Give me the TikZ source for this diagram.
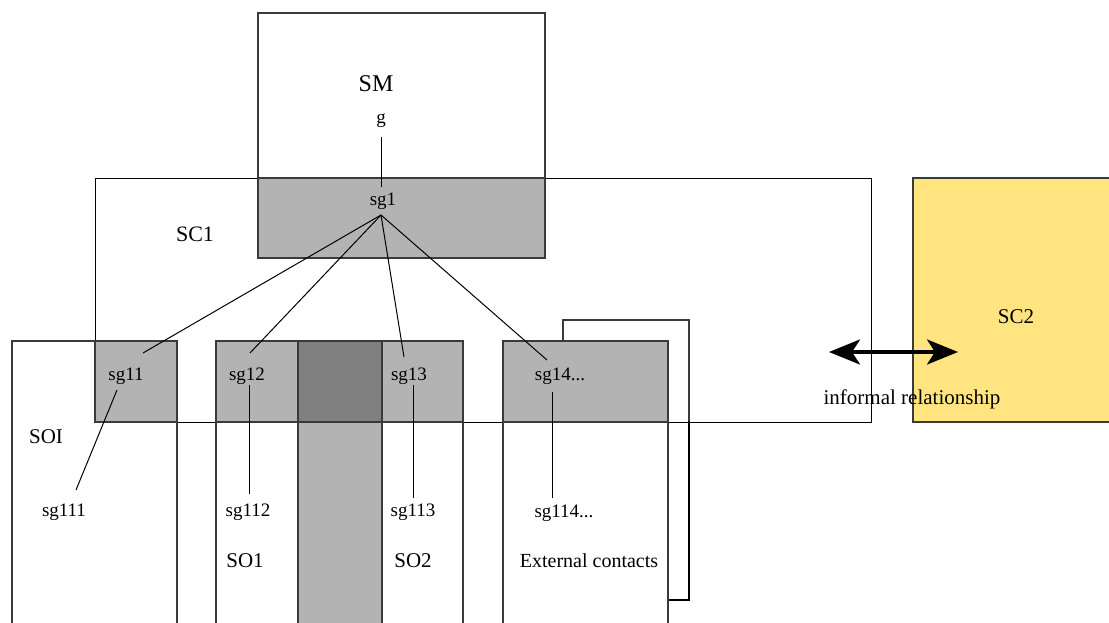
\documentclass[tikz,border=0pt]{standalone}
\usepackage{fontspec}
\setmainfont{Liberation Serif}
\usetikzlibrary{arrows.meta}
\definecolor{boxgrey}{HTML}{B3B3B3}
\definecolor{darkgrey}{HTML}{808080}
\definecolor{scyellow}{HTML}{FFE480}
\definecolor{edgegrey}{HTML}{3A3A3A}
\tikzset{
  frame/.style={draw=edgegrey, line width=1.1pt},
  thinframe/.style={draw=black, line width=0.9pt},
  greyfill/.style={fill=boxgrey, draw=edgegrey, line width=1.3pt},
  conn/.style={draw=black, line width=1pt},
  lbl/.style={inner sep=0pt, anchor=base, text=black},
  small/.style={lbl, font=\fontsize{19}{21}\selectfont},
  mid/.style={lbl, font=\fontsize{21}{23}\selectfont},
  big/.style={lbl, font=\fontsize{24}{26}\selectfont},
}
\begin{document}
\begin{tikzpicture}[x=1pt,y=-1pt]
\useasboundingbox (0,0) rectangle (1109,623);
\clip (0,0) rectangle (1109,623);
\fill[white] (0,0) rectangle (1109,623);
% SC1
\path[thinframe] (95,178) rectangle (871,422);
% SM
\path[frame] (258,13) rectangle (545,258);
\path[greyfill] (258,178) rectangle (545,258);
% SC2
\path[fill=scyellow, draw=edgegrey, line width=1.1pt] (913,178) rectangle (1120,422);
% back box behind external contacts
\draw[edgegrey, line width=1.1pt] (563,341) -- (563,320) -- (689,320) -- (689,422);
\draw[black, line width=2pt] (689,421) -- (689,600) -- (668,600);
% SOI
\path[frame] (12,341) rectangle (177,640);
\path[greyfill] (95,341) rectangle (177,422);
% SO1
\path[frame] (216,341) rectangle (298,640);
\path[greyfill] (216,341) rectangle (298,422);
% middle column
\path[greyfill] (298,341) rectangle (382,640);
\path[fill=darkgrey, draw=edgegrey, line width=1.3pt] (298,341) rectangle (382,422);
% SO2
\path[frame] (382,341) rectangle (463,640);
\path[greyfill] (382,341) rectangle (463,422);
% External contacts
\path[frame, fill=white] (503,341) rectangle (668,640);
\path[greyfill] (503,341) rectangle (668,422);

% labels
\node[big] (SM) at (376,92) {SM};
\node[small] (g) at (381,124) {g};
\node[small] (sg1) at (383,205) {sg1};
\node[big, font=\fontsize{22}{24}\selectfont] (SC1) at (195,241) {SC1};
\node[mid] (SC2) at (1016,323) {SC2};
\node[small] (sg11) at (126,380) {sg11};
\node[mid] (SOI) at (46,443) {SOI};
\node[small] (sg111) at (64,516) {sg111};
\node[small] (sg12) at (247,380) {sg12};
\node[small] (sg112) at (248,516) {sg112};
\node[mid] (SO1) at (245,567) {SO1};
\node[small] (sg13) at (409,380) {sg13};
\node[small] (sg113) at (413,516) {sg113};
\node[mid] (SO2) at (413,567) {SO2};
\node[small] (sg14) at (560,380) {sg14...};
\node[small] (sg114) at (564,517) {sg114...};
\node[mid, font=\fontsize{20}{22}\selectfont] (ext) at (589,567) {External contacts};
\node[mid] (inf) at (912,404) {informal relationship};

% connector end points
\coordinate (gB) at (381,137);
\coordinate (sg1T) at (381,187);
\coordinate (hub) at (381,215);
\coordinate (e11) at (143,353);
\coordinate (e12) at (250,353);
\coordinate (e13) at (404,357);
\coordinate (e14) at (547,360);
\coordinate (s11) at (117,390);
\coordinate (s111) at (76,490);
\coordinate (s12) at (249,385);
\coordinate (s112) at (249,494);
\coordinate (s13) at (413,385);
\coordinate (s113) at (413,498);
\coordinate (s14) at (552,392);
\coordinate (s114) at (552,498);
\coordinate (arrL) at (829,352);
\coordinate (arrR) at (958,352);

\draw[conn] (gB) -- (sg1T);
\draw[conn] (hub) -- (e11);
\draw[conn] (hub) -- (e12);
\draw[conn] (hub) -- (e13);
\draw[conn] (hub) -- (e14);
\draw[conn] (s11) -- (s111);
\draw[conn] (s12) -- (s112);
\draw[conn] (s13) -- (s113);
\draw[conn] (s14) -- (s114);
\draw[line width=3.5pt, {Stealth[length=31pt,width=25pt,inset=8pt]}-{Stealth[length=31pt,width=25pt,inset=8pt]}] (arrL) -- (arrR);
\end{tikzpicture}
\end{document}
